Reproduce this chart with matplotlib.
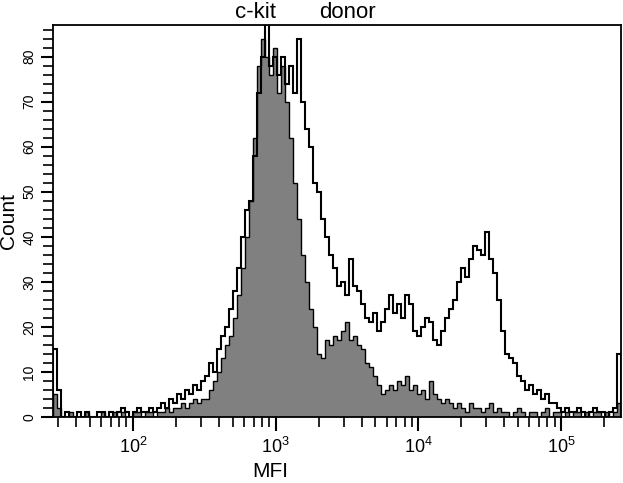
import numpy as np
import matplotlib
matplotlib.use("Agg")
import matplotlib.pyplot as plt
from matplotlib.ticker import LogLocator, NullFormatter, FixedLocator, MultipleLocator

plt.rcParams['font.family'] = ['Liberation Sans', 'DejaVu Sans']

# channel range of the cytometer (log10 MFI)
log_min, log_max = 1.44, 5.42
n_bins = 142

# counts per channel, c-kit on donor cells (open black histogram)
donor_counts = [
    15, 6,
    0, 1, 0, 0, 1, 0, 1, 0, 0, 1, 1, 0, 1, 0, 1, 2, 1, 0, 1, 2, 1, 1, 2, 1,
    2, 3, 2, 4, 3, 5, 4, 6, 5, 7, 6, 8, 9, 12, 10, 15, 18, 20, 24, 28,
    33, 40, 46, 48, 58, 72, 80, 88, 78, 80, 76, 80, 74, 78, 72, 84, 70, 64,
    60, 52, 50, 44, 40, 36, 33, 29, 30, 27, 35, 29, 28, 25, 22, 21, 23, 19,
    21, 24, 27, 23, 25, 22, 27, 25, 19, 18, 20, 22, 21, 17, 16, 19, 22, 24,
    26, 30, 33, 31, 35, 38, 37, 36, 41, 35, 32, 26, 19, 14, 13, 12, 9, 8,
    6, 7, 5, 6, 4, 5, 3, 3, 2,
    1, 2, 1, 1, 2, 1, 0, 1, 2, 1, 1, 0, 1, 2, 14,
]

# counts per channel, control (grey filled histogram)
control_counts = [
    5, 2,
    0, 0, 1, 0, 0, 0, 1, 0, 0, 0, 1, 0, 0, 1, 0, 1, 0, 0, 1, 1, 0, 1, 1, 0,
    1, 1, 2, 1, 2, 2, 3, 2, 3, 4, 3, 4, 4, 6, 8, 10, 13, 16, 18, 22,
    27, 33, 40, 48, 62, 78, 84, 80, 76, 82, 72, 78, 70, 62, 52, 44, 36, 30,
    24, 20, 14, 13, 17, 16, 18, 17, 19, 21, 17, 18, 16, 15, 12, 11, 9, 7,
    5, 6, 7, 6, 8, 7, 9, 6, 7, 5, 6, 4, 8, 5, 4, 3, 4, 3,
    2, 3, 2, 1, 3, 2, 2, 1, 2, 3, 1, 2,
    1, 1, 0, 1, 2, 1, 0, 1, 1, 0, 1, 2, 0, 1, 1, 0, 1, 0, 1, 1, 0, 1, 0, 1,
    1, 0, 1, 0, 1, 3,
]

x_ticks = [1e2, 1e3, 1e4, 1e5]
x_tick_labels = [r'$\mathregular{10^{2}}$', r'$\mathregular{10^{3}}$',
                 r'$\mathregular{10^{4}}$', r'$\mathregular{10^{5}}$']
y_ticks = [0, 10, 20, 30, 40, 50, 60, 70, 80]

edges = np.logspace(log_min, log_max, n_bins + 1)

fig = plt.figure(figsize=(6.23, 4.83), dpi=100)
ax = fig.add_axes([53 / 623, 1 - 417 / 483, 568 / 623, 392 / 483])

ax.stairs(control_counts, edges, fill=True, color='#808080', zorder=1)
ax.stairs(control_counts, edges, color='black', linewidth=1.0, zorder=2)
ax.stairs(donor_counts, edges, color='black', linewidth=1.5, zorder=3)

ax.set_xscale('log')
ax.set_xlim(10 ** log_min, 10 ** log_max)
ax.set_ylim(0, 87)

ax.xaxis.set_major_locator(FixedLocator(x_ticks))
ax.set_xticklabels(x_tick_labels, fontsize=13)
ax.xaxis.set_minor_locator(LogLocator(base=10, subs=np.arange(2, 10)))
ax.xaxis.set_minor_formatter(NullFormatter())
ax.tick_params(axis='x', which='major', length=10, width=1.5, pad=4)
ax.tick_params(axis='x', which='minor', length=7, width=1.2)

ax.set_yticks(y_ticks)
ax.set_yticklabels([str(v) for v in y_ticks], rotation=90, va='center', fontsize=10)
ax.yaxis.set_minor_locator(MultipleLocator(2))
ax.tick_params(axis='y', which='major', length=9, width=1.5, pad=3)
ax.tick_params(axis='y', which='minor', length=7, width=1.2)

for s in ax.spines.values():
    s.set_linewidth(1.3)

ax.set_ylabel('Count', fontsize=15, labelpad=3)
ax.text((270 - 53) / 568, -0.115, 'MFI', transform=ax.transAxes,
        ha='center', va='top', fontsize=15)

fig.text(256 / 623, 1 - 12 / 483, 'c-kit', ha='center', va='center', fontsize=16)
fig.text(347 / 623, 1 - 12 / 483, 'donor', ha='center', va='center', fontsize=16)

fig.savefig('out.png', dpi=100)
